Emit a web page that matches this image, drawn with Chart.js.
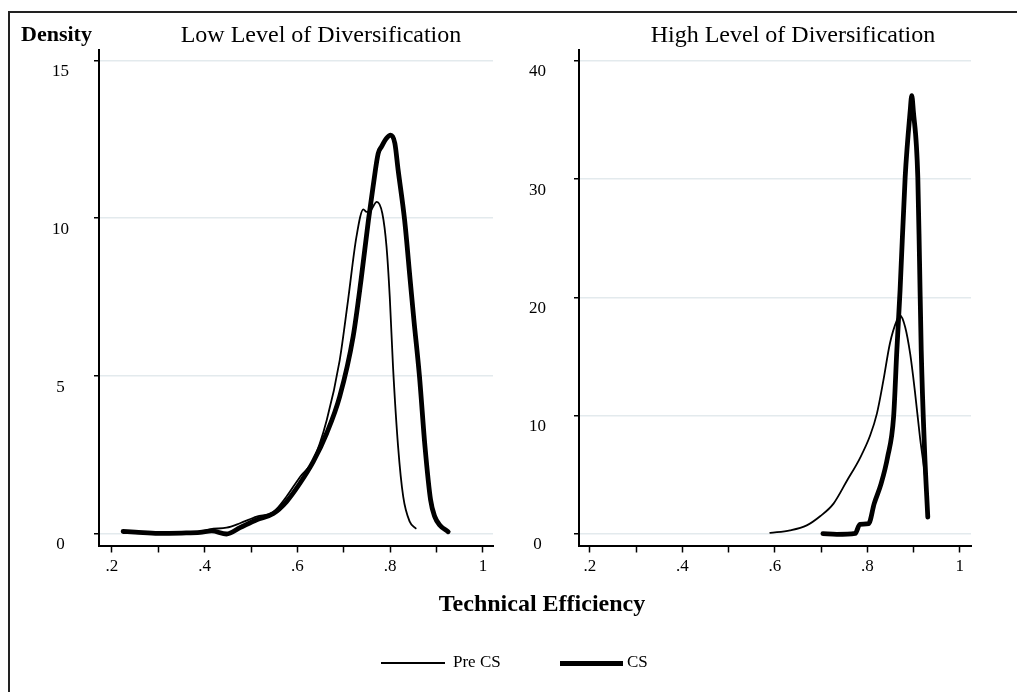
<!DOCTYPE html>
<html>
<head>
<meta charset="utf-8">
<script src="https://cdn.jsdelivr.net/npm/chart.js@4/dist/chart.umd.min.js"></script>
<style>
  body { margin: 0; background: #fff; }
  #page { position: relative; width: 1017px; height: 692px; overflow: hidden; background: #fff;
          font-family: "Liberation Serif", "DejaVu Serif", serif; color: #000; }
  .frameLeft { position: absolute; left: 8px; top: 11px; width: 2px; height: 700px; background: #222; }
  .frameTop { position: absolute; left: 8px; top: 11px; width: 1020px; height: 2px; background: #222; }
  canvas { position: absolute; top: 0; }
  .txt { position: absolute; line-height: 1; white-space: nowrap; }
  .title { font-size: 24px; transform: translateX(-50%); top: 22px; }
  .legLine { position: absolute; background: #000; }
</style>
</head>
<body>
<div id="page">
  <div class="frameLeft"></div>
  <div class="frameTop"></div>
  <canvas id="lowChart" width="505" height="600" style="left:0px"></canvas>
  <canvas id="highChart" width="512" height="600" style="left:505px"></canvas>
  <div class="txt" style="left:21px; top:22.6px; font-size:22px; font-weight:bold;">Density</div>
  <div class="txt title" style="left:321px;">Low Level of Diversification</div>
  <div class="txt title" style="left:793px;">High Level of Diversification</div>
  <div class="txt" style="left:542px; top:591px; font-size:24px; font-weight:bold; transform:translateX(-50%);">Technical Efficiency</div>
  <div class="legLine" style="left:381px; top:662px; width:64px; height:2px;"></div>
  <div class="txt" style="left:453px; top:653px; font-size:17px;">Pre CS</div>
  <div class="legLine" style="left:560px; top:661px; width:63px; height:5px;"></div>
  <div class="txt" style="left:627px; top:653px; font-size:17px;">CS</div>
</div>
<script>
// tick values and labels (shared x axis)
const xTickValues = [0.2, 0.3, 0.4, 0.5, 0.6, 0.7, 0.8, 0.9, 1.0];
const xTickLabels = [".2", "", ".4", "", ".6", "", ".8", "", "1"];
const lowYTicks = [0, 5, 10, 15];
const highYTicks = [0, 10, 20, 30, 40];

// low diversification - Pre CS
const lowPreX = [0.224, 0.25, 0.30, 0.35, 0.39, 0.411, 0.447, 0.476, 0.512, 0.548, 0.576, 0.605, 0.634, 0.663, 0.691, 0.709, 0.727, 0.742, 0.749, 0.758, 0.771, 0.783, 0.792, 0.799, 0.806, 0.817, 0.828, 0.842, 0.855];
const lowPreY = [0.08, 0.06, 0.02, 0.03, 0.05, 0.15, 0.2, 0.34, 0.55, 0.7, 1.18, 1.8, 2.34, 3.6, 5.5, 7.4, 9.4, 10.28, 10.2, 10.25, 10.52, 10.15, 9.1, 7.5, 5.3, 2.76, 1.18, 0.39, 0.18];
// low diversification - CS
const lowCsX = [0.224, 0.25, 0.30, 0.35, 0.39, 0.415, 0.447, 0.476, 0.512, 0.548, 0.576, 0.605, 0.634, 0.663, 0.691, 0.720, 0.737, 0.753, 0.763, 0.774, 0.781, 0.792, 0.801, 0.810, 0.817, 0.831, 0.843, 0.851, 0.863, 0.875, 0.887, 0.896, 0.907, 0.925];
const lowCsY = [0.08, 0.06, 0.02, 0.03, 0.05, 0.1, 0.0, 0.2, 0.45, 0.65, 1.02, 1.6, 2.29, 3.19, 4.35, 6.25, 8.04, 9.94, 11.0, 12.05, 12.26, 12.53, 12.63, 12.37, 11.53, 9.94, 8.04, 6.78, 5.0, 2.76, 1.08, 0.55, 0.28, 0.07];

// high diversification - Pre CS
const highPreX = [0.590, 0.633, 0.669, 0.698, 0.727, 0.756, 0.784, 0.806, 0.821, 0.835, 0.849, 0.864, 0.871, 0.882, 0.893, 0.903, 0.914, 0.925, 0.932];
const highPreY = [0.09, 0.31, 0.73, 1.5, 2.57, 4.5, 6.4, 8.3, 10.2, 13.0, 16.1, 18.05, 18.47, 17.5, 15.2, 12.1, 8.2, 4.8, 1.43];
// high diversification - CS
const highCsX = [0.704, 0.734, 0.774, 0.784, 0.803, 0.815, 0.830, 0.844, 0.857, 0.864, 0.871, 0.882, 0.893, 0.8963, 0.8996, 0.9094, 0.9131, 0.9168, 0.924, 0.931];
const highCsY = [0.03, -0.03, 0.05, 0.82, 0.88, 2.57, 4.26, 6.5, 9.9, 15.5, 20.6, 30.15, 35.8, 37.05, 35.8, 30.15, 23.1, 15.5, 7.07, 1.43];

const toPoints = (xs, ys) => xs.map((x, i) => ({ x: x, y: ys[i] }));
const serif = "'Liberation Serif', 'DejaVu Serif', serif";

function makeLines(preX, preY, csX, csY) {
  const common = {
    borderColor: "#000",
    pointRadius: 0,
    cubicInterpolationMode: "monotone",
    borderJoinStyle: "round",
    borderCapStyle: "round",
    fill: false,
  };
  return [
    { ...common, label: "Pre CS", data: toPoints(preX, preY), borderWidth: 1.8 },
    { ...common, label: "CS", data: toPoints(csX, csY), borderWidth: 4.8 },
  ];
}

function makeChart(id, datasets, cfg) {
  const ctx = document.getElementById(id).getContext("2d");
  return new Chart(ctx, {
    type: "line",
    data: { datasets: datasets },
    options: {
      responsive: false,
      animation: false,
      devicePixelRatio: 1,
      layout: { padding: { top: 49.5, right: cfg.padRight, left: 0, bottom: 0 } },
      plugins: { legend: { display: false }, tooltip: { enabled: false }, title: { display: false } },
      scales: {
        x: {
          type: "linear",
          min: cfg.xMin,
          max: cfg.xMax,
          afterBuildTicks: (scale) => { scale.ticks = xTickValues.map((v) => ({ value: v })); },
          afterFit: (scale) => { scale.height = 54.5; },
          ticks: {
            autoSkip: false,
            maxRotation: 0,
            padding: 4,
            color: "#000",
            font: { family: serif, size: 17 },
            callback: (value, index) => xTickLabels[index],
          },
          grid: { drawOnChartArea: false, drawTicks: true, tickLength: 7, tickColor: "#000", tickWidth: 1.5 },
          border: { display: true, color: "#000", width: 2 },
        },
        y: {
          type: "linear",
          min: cfg.yMin,
          max: cfg.yMax,
          afterBuildTicks: (scale) => { scale.ticks = cfg.yTicks.map((v) => ({ value: v })); },
          afterFit: (scale) => { scale.width = cfg.axisWidth; },
          ticks: {
            padding: cfg.labelPad,
            crossAlign: "center",
            color: "#000",
            font: { family: serif, size: 17, lineHeight: "22px" },
            callback: (value) => ["", String(value)],
          },
          grid: { color: "#e3eaed", lineWidth: 1.5, drawTicks: true, tickLength: 5, tickColor: "#000", tickWidth: 1.5 },
          border: { display: true, color: "#000", width: 2 },
        },
      },
    },
  });
}

makeChart("lowChart", makeLines(lowPreX, lowPreY, lowCsX, lowCsY), {
  xMin: 0.172, xMax: 1.0216, yMin: -0.364, yMax: 15.342,
  yTicks: lowYTicks, axisWidth: 99, padRight: 12, labelPad: 25,
});

makeChart("highChart", makeLines(highPreX, highPreY, highCsX, highCsY), {
  xMin: 0.1762, xMax: 1.0245, yMin: -0.971, yMax: 40.91,
  yTicks: highYTicks, axisWidth: 74, padRight: 46, labelPad: 28,
});
</script>
</body>
</html>
